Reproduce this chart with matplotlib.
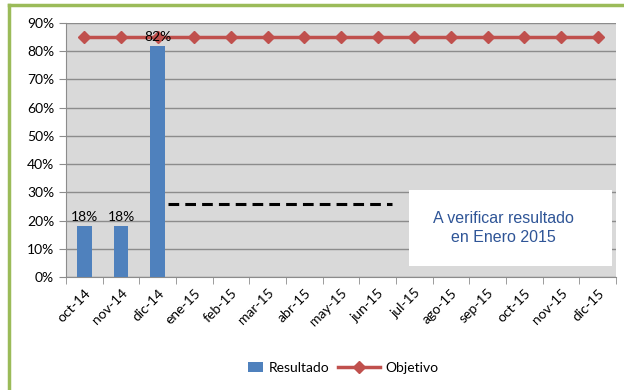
import numpy as np
import matplotlib.pyplot as plt
from matplotlib.lines import Line2D
from matplotlib.patches import Rectangle
from matplotlib.legend_handler import HandlerPatch

plt.rcParams['font.family'] = ['Lato', 'DejaVu Sans']

meses = ['oct-14', 'nov-14', 'dic-14', 'ene-15', 'feb-15', 'mar-15', 'abr-15',
         'may-15', 'jun-15', 'jul-15', 'ago-15', 'sep-15', 'oct-15', 'nov-15', 'dic-15']
resultado = [0.18, 0.18, 0.82]
objetivo = [0.85] * 15
pendiente = 0.26  # nivel de la linea discontinua

fig = plt.figure(figsize=(6.24, 3.90), dpi=100)
ax = fig.add_axes([66 / 624, 1 - 277 / 390, 550 / 624, 254 / 390])
ax.set_facecolor('#D9D9D9')

x = np.arange(len(meses))
barras = ax.bar(x[:len(resultado)], resultado, width=0.4, color='#4F81BD',
                zorder=3, label='Resultado')
for xi, v in zip(x, resultado):
    ax.text(xi, v + 0.01, f'{v:.0%}', ha='center', va='bottom', fontsize=10,
            zorder=5)
linea, = ax.plot(x, objetivo, color='#C0504D', lw=2.5, marker='D', ms=6,
                 zorder=4, label='Objetivo')

ax.plot([2.27, 8.4], [pendiente, pendiente], color='black', lw=2.2,
        ls=(0, (3.5, 2)), zorder=4)

ax.set_xlim(-0.5, len(meses) - 0.5)
ax.set_ylim(0, 0.9)
ax.set_yticks(np.arange(0, 0.91, 0.1))
ax.set_yticklabels([f'{int(round(t * 100))}%' for t in np.arange(0, 0.91, 0.1)],
                   fontsize=10)
ax.yaxis.grid(True, color='#8C8C8C', lw=1, zorder=1)
ax.set_axisbelow(True)

ax.set_xticks(x)
ax.set_xticklabels(meses, rotation=45, ha='right', rotation_mode='anchor',
                   fontsize=10)
ax.tick_params(axis='x', length=0, pad=7)
ax.set_xticks(np.arange(-0.5, len(meses)), minor=True)
ax.tick_params(axis='x', which='minor', length=5, color='#8C8C8C')
ax.tick_params(axis='y', length=5, color='#8C8C8C')

for s in ['top', 'right']:
    ax.spines[s].set_visible(False)
ax.spines['left'].set_color('#8C8C8C')
ax.spines['bottom'].set_color('#8C8C8C')

# cuadro de aviso
ax.text(11.44, 0.175, 'A verificar resultado\nen Enero 2015', ha='center',
        va='center', fontsize=11.5, color='#2F5597', linespacing=1.35,
        family=['Liberation Sans', 'DejaVu Sans'], zorder=6)
ax.add_patch(Rectangle((8.85, 0.04), 5.55, 0.27, facecolor='white',
                       edgecolor='none', zorder=5))


def cuadrito(legend, orig_handle, xdescent, ydescent, width, height, fontsize):
    ancho, alto = height * 1.6, height * 1.0
    return Rectangle((width - ancho, -ydescent + (height - alto) / 2), ancho, alto)


barra_ley = barras.patches[0]
fig.legend([barra_ley, linea], ['Resultado', 'Objetivo'], loc='center',
           bbox_to_anchor=(330 / 624, 1 - 368 / 390), ncol=2, frameon=False,
           fontsize=10, handlelength=3.0, columnspacing=0.6,
           handletextpad=0.4,
           handler_map={barra_ley: HandlerPatch(patch_func=cuadrito)})

# marco verde
fig.add_artist(Line2D([8.5 / 624, 8.5 / 624], [0, 1 - 5 / 390],
                      color='#9BBB59', lw=2.5, transform=fig.transFigure))
fig.add_artist(Line2D([8.5 / 624, 1], [1 - 5 / 390, 1 - 5 / 390],
                      color='#9BBB59', lw=2.5, transform=fig.transFigure))

fig.savefig('out.png', dpi=100)
